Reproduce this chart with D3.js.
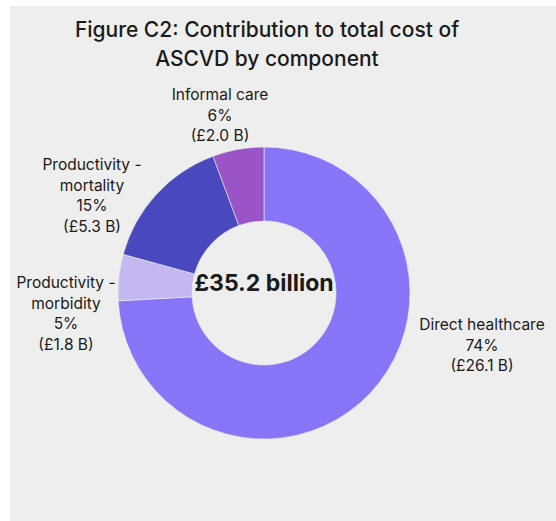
<!DOCTYPE html>
<html>
<head>
<meta charset="utf-8">
<script src="https://cdn.jsdelivr.net/npm/d3@7"></script>
<style>
  html, body { margin: 0; padding: 0; background: #ffffff; }
  svg { display: block; }
  text { font-family: Inter, "Noto Sans", sans-serif; fill: #1a1a1a; }
</style>
</head>
<body>
<svg id="chart" width="556" height="521"></svg>
<script>
// Cost components of ASCVD, £ billion
const categories = ["Direct healthcare", "Productivity - morbidity", "Productivity - mortality", "Informal care"];
const values = [26.1, 1.8, 5.3, 2.0];
const colors = ["#8675f6", "#c5b7ef", "#4a48be", "#9a54c8"];
const titleLines = ["Figure C2: Contribution to total cost of", "ASCVD by component"];
const totalLabel = "£35.2 billion";

const W = 556, H = 521;
const svg = d3.select("#chart");

// grey panel
svg.append("rect").attr("x", 10).attr("y", 6).attr("width", W - 10).attr("height", H - 6).attr("fill", "#eeeeee");

// title
svg.append("g").selectAll("text").data(titleLines).join("text")
  .attr("x", 267).attr("y", (d, i) => 37 + i * 29)
  .attr("text-anchor", "middle")
  .style("font-size", "21px").style("font-weight", 500)
  .text(d => d);

const cx = 264, cy = 293, outerR = 146, innerR = 72;
const data = categories.map((c, i) => ({ name: c, value: values[i], color: colors[i] }));
const total = d3.sum(values);

const pie = d3.pie().value(d => d.value).sort(null);
const arc = d3.arc().innerRadius(innerR).outerRadius(outerR);
const arcs = pie(data);

const g = svg.append("g").attr("transform", `translate(${cx},${cy})`);
g.selectAll("path").data(arcs).join("path")
  .attr("d", arc)
  .attr("fill", d => d.data.color)
  .attr("stroke", "#eeeeee").attr("stroke-width", 0.6);

// centre total
g.append("text").attr("text-anchor", "middle").attr("y", -8)
  .attr("dominant-baseline", "middle")
  .style("font-size", "23px").style("font-weight", 700)
  .text(totalLabel);

// outside labels: anchor point (centre of first line) for each slice
const labelAnchor = [
  [482, 330], [66, 288], [92, 170], [220, 100]
];
const lineGap = 20.5;
arcs.forEach((a, i) => {
  const nameLines = a.data.name === "Productivity - morbidity" ? ["Productivity -", "morbidity"]
    : a.data.name === "Productivity - mortality" ? ["Productivity -", "mortality"]
    : [a.data.name];
  const pct = Math.round(a.data.value / total * 100) + "%";
  const amt = "(£" + a.data.value.toFixed(1) + " B)";
  const lines = nameLines.concat([pct, amt]);
  const t = svg.append("text").attr("text-anchor", "middle")
    .style("font-size", "15.5px");
  lines.forEach((ln, j) => {
    t.append("tspan").attr("x", labelAnchor[i][0]).attr("y", labelAnchor[i][1] + j * lineGap).text(ln);
  });
});
</script>
</body>
</html>
